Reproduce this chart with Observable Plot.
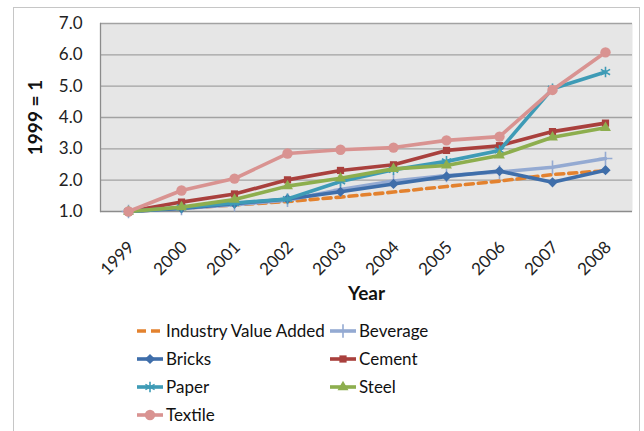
<!DOCTYPE html>
<html><head><meta charset="utf-8">
<script src="https://cdn.jsdelivr.net/npm/d3@7"></script>
<script src="https://cdn.jsdelivr.net/npm/@observablehq/plot@0.6"></script>
<style>
body{margin:0;background:#fff;font-family:Lato,"Liberation Sans",sans-serif;}
#wrap{position:relative;width:644px;height:431px;overflow:hidden;background:#fff;}
#border{position:absolute;left:13px;top:7px;width:627px;height:450px;border:1px solid #c6c6c6;box-sizing:border-box;}
#chart{position:absolute;left:0;top:0;}
#legend{position:absolute;left:0;top:0;}
#chart svg{font-family:Lato,"Liberation Sans",sans-serif;}
g[aria-label="x-axis label"] text, g[aria-label="y-axis label"] text{font-weight:bold;font-size:19px;fill:#111;}
</style></head><body>
<div id="wrap"><div id="border"></div><div id="chart"></div><div id="legend"></div></div>
<script>
const years = ["1999","2000","2001","2002","2003","2004","2005","2006","2007","2008"];
const yTicks = [1, 2, 3, 4, 5, 6, 7];
const seriesNames = ["Industry Value Added","Beverage","Bricks","Cement","Paper","Steel","Textile"];
const industryValueAdded = [1.00,1.11,1.21,1.32,1.46,1.62,1.80,1.97,2.18,2.30];
const beverage = [1.00,1.10,1.22,1.36,1.70,1.97,2.15,2.26,2.41,2.69];
const bricks   = [1.00,1.10,1.25,1.40,1.63,1.88,2.12,2.29,1.93,2.32];
const cement   = [1.00,1.30,1.56,2.01,2.31,2.49,2.95,3.10,3.55,3.82];
const paper    = [1.00,1.13,1.27,1.40,1.96,2.33,2.60,2.95,4.92,5.45];
const steel    = [1.00,1.14,1.38,1.81,2.06,2.36,2.47,2.79,3.37,3.67];
const textile  = [1.00,1.67,2.05,2.85,2.97,3.04,3.27,3.39,4.88,6.08];
const seriesValues = [industryValueAdded, beverage, bricks, cement, paper, steel, textile];
const seriesColors = ["#E3822F","#94AAD2","#3F6EAA","#A9403D","#3E9BB6","#8DAE4E","#D99391"];
const seriesSymbols = [null,"plus","diamond2","square2","asterisk","triangle2","circle"];
const symbolStroked = [false,true,false,false,true,false,false];
const symbolR = [0,4.5,4.6,4.6,5,5.2,5.2];

const rows = seriesNames.flatMap((s, i) => years.map((y, j) => ({series: s, idx: i, year: y, value: seriesValues[i][j]})));

const marks = [
  Plot.frame({fill:"#e6e6e6", stroke:"none"}),
  Plot.gridY(yTicks.slice(1), {stroke:"#a2a2a2", strokeOpacity:1, strokeWidth:1.3}),
  Plot.ruleY([1], {stroke:"#8c8c8c", strokeWidth:1.3}),
  Plot.frame({anchor:"left", stroke:"#8c8c8c", strokeWidth:1.3})
];
seriesNames.forEach((s, i) => {
  const data = rows.filter(d => d.idx === i);
  marks.push(Plot.line(data, {x:"year", y:"value", stroke: seriesColors[i], strokeWidth:3.6,
    strokeDasharray: i === 0 ? "8,5" : null, strokeLinejoin:"round"}));
  if (seriesSymbols[i]) {
    marks.push(Plot.dot(data, symbolStroked[i]
      ? {x:"year", y:"value", symbol: seriesSymbols[i], r: symbolR[i], stroke: seriesColors[i], strokeWidth:1.6, fill:"none"}
      : {x:"year", y:"value", symbol: seriesSymbols[i], r: symbolR[i], fill: seriesColors[i], stroke:"none"}));
  }
});
marks.push(Plot.axisY({ticks: yTicks, tickFormat: d3.format(".1f"), tickSize:0, tickPadding:18, fontSize:17,
  label:"1999 = 1", labelAnchor:"center", labelOffset:72, labelArrow:"none", color:"#222"}));
marks.push(Plot.axisX({tickRotate:-45, tickSize:0, tickPadding:33, dx:3, fontSize:17,
  label:"Year", labelAnchor:"center", labelOffset:88, labelArrow:"none", color:"#222"}));

const chart = Plot.plot({
  width: 644, height: 305,
  marginLeft: 100, marginRight: 12, marginTop: 23, marginBottom: 94,
  x: {type:"point", domain: years, padding: 0.5},
  y: {domain: [1, 7]},
  style: {background:"transparent", fontFamily:"Lato, 'Liberation Sans', sans-serif"},
  marks
});
document.getElementById("chart").appendChild(chart);

// Legend
const legendPos = [[137,331],[330,331],[137,359],[330,359],[137,387],[330,387],[137,415]];
const lsvg = d3.select("#legend").append("svg").attr("width",644).attr("height",431);
seriesNames.forEach((s, i) => {
  const [x, y] = legendPos[i];
  const g = lsvg.append("g").attr("transform", `translate(${x},${y})`);
  g.append("line").attr("x1",0).attr("x2",26).attr("y1",0).attr("y2",0)
    .attr("stroke", seriesColors[i]).attr("stroke-width",3.6)
    .attr("stroke-dasharray", i === 0 ? "9,5" : null);
  if (seriesSymbols[i]) {
    const sym = {plus: d3.symbolPlus, diamond2: d3.symbolDiamond2, square2: d3.symbolSquare2, asterisk: d3.symbolAsterisk, triangle2: d3.symbolTriangle2, circle: d3.symbolCircle}[seriesSymbols[i]];
    const r = symbolR[i];
    g.append("path").attr("transform","translate(13,0)")
      .attr("d", d3.symbol(sym, Math.PI * r * r)())
      .attr("fill", symbolStroked[i] ? "none" : seriesColors[i])
      .attr("stroke", symbolStroked[i] ? seriesColors[i] : "none")
      .attr("stroke-width", 1.6);
  }
  g.append("text").attr("x", 29).attr("y", 0).attr("dy","0.35em")
    .attr("font-size", 17).attr("fill","#111").text(s);
});
</script>
</body></html>
